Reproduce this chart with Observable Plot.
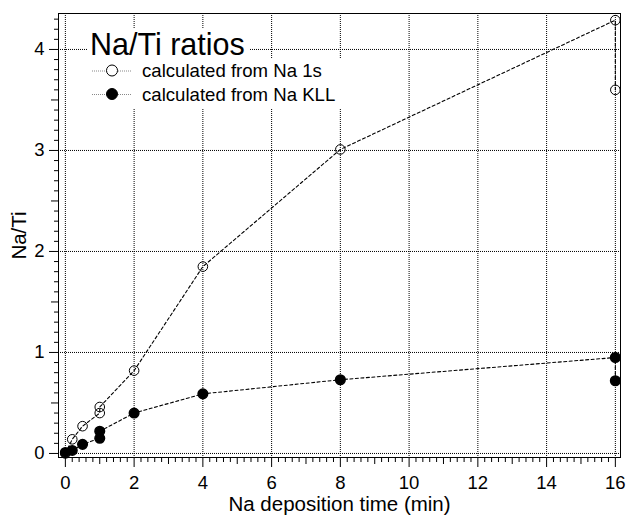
<!DOCTYPE html>
<html><head><meta charset="utf-8">
<script src="https://cdn.jsdelivr.net/npm/d3@7"></script>
<script src="https://cdn.jsdelivr.net/npm/@observablehq/plot@0.6"></script>
<style>body{margin:0;background:#fff;} svg{display:block}</style>
</head><body><div id="chart"></div>
<script>
// ---- data ----
const timeNa1s  = [0, 0.2, 0.5, 1, 1, 2, 4, 8, 16, 16];
const ratioNa1s = [0, 0.14, 0.27, 0.40, 0.46, 0.82, 1.85, 3.01, 4.29, 3.60];
const timeKLL   = [0, 0.2, 0.5, 1, 1, 2, 4, 8, 16, 16];
const ratioKLL  = [0.01, 0.03, 0.09, 0.15, 0.22, 0.40, 0.59, 0.73, 0.95, 0.72];
const xTicks = [0, 2, 4, 6, 8, 10, 12, 14, 16];
const yTicks = [0, 1, 2, 3, 4];
const seriesLabels = ["calculated from Na 1s", "calculated from Na KLL"];
const legendTitle = "Na/Ti ratios";
const xLabel = "Na deposition time (min)";
const yLabel = "Na/Ti";

const na1s = timeNa1s.map((t, i) => ({t, r: ratioNa1s[i]}));
const kll = timeKLL.map((t, i) => ({t, r: ratioKLL[i]}));

const xMinor = d3.range(0, 16.01, 0.2).map(v => +v.toFixed(2)).filter(v => Math.abs(v - Math.round(v)) > 1e-6);
const xMid = d3.range(1, 16, 2);
const yMinor = d3.range(0, 4.31, 0.1).map(v => +v.toFixed(2)).filter(v => Math.abs(v * 2 - Math.round(v * 2)) > 1e-6);
const yMid = [0.5, 1.5, 2.5, 3.5];

const font = "'Liberation Sans', Arial, Helvetica, sans-serif";
const dotted = {stroke: "black", strokeOpacity: 1, strokeDasharray: "1,1", strokeWidth: 1};
const noText = () => "";
const intFmt = d => String(d);

const chart = Plot.plot({
  width: 626, height: 516,
  marginLeft: 58, marginRight: 6, marginTop: 13, marginBottom: 59,
  style: {fontFamily: font, fontSize: "18px", color: "black", background: "white"},
  x: {domain: [-0.2, 16.15]},
  y: {domain: [-0.04, 4.356]},
  marks: [
    Plot.gridX(xTicks, dotted),
    Plot.gridY(yTicks, dotted),
    Plot.axisX({ticks: xMinor, tickSize: 5, tickFormat: noText, label: null}),
    Plot.axisX({ticks: xMid, tickSize: 7, tickFormat: noText, label: null}),
    Plot.axisX({ticks: xTicks, tickSize: 10, tickPadding: 8, fontSize: 18.5, tickFormat: intFmt,
      label: xLabel, labelAnchor: "center", labelOffset: 53, labelArrow: "none"}),
    Plot.axisY({ticks: yMinor, tickSize: 4, tickFormat: noText, label: null}),
    Plot.axisY({ticks: yMid, tickSize: 7, tickFormat: noText, label: null}),
    Plot.axisY({ticks: yTicks, tickSize: 9, tickPadding: 5, fontSize: 18.5, tickFormat: intFmt,
      label: yLabel, labelAnchor: "center", labelOffset: 47, labelArrow: "none"}),
    Plot.frame({stroke: "black", strokeWidth: 1}),
    Plot.line(na1s, {x: "t", y: "r", stroke: "black", strokeWidth: 1.1, strokeDasharray: "3,2.5"}),
    Plot.line(kll, {x: "t", y: "r", stroke: "black", strokeWidth: 1.1, strokeDasharray: "3,2.5"}),
    Plot.dot(na1s, {x: "t", y: "r", r: 4.8, stroke: "black", strokeWidth: 1, fill: "none"}),
    Plot.dot(kll, {x: "t", y: "r", r: 4.8, fill: "black", stroke: "black"})
  ]
});

const svg = d3.select(chart);
svg.selectAll("text").style("font-family", font);
svg.selectAll('[aria-label="x-axis label"] text, [aria-label="y-axis label"] text').style("font-size", "20.5px");

// legend
const lg = svg.append("g").attr("font-family", font).attr("fill", "black").attr("text-anchor", "start");
lg.append("rect").attr("x", 88).attr("y", 28).attr("width", 161).attr("height", 30).attr("fill", "white");
lg.append("rect").attr("x", 88).attr("y", 58).attr("width", 258).attr("height", 50).attr("fill", "white");
lg.append("text").attr("x", 90).attr("y", 55).attr("font-size", 30.5).text(legendTitle);
const entryY = [70.5, 94];
seriesLabels.forEach((lab, i) => {
  const y = entryY[i];
  lg.append("line").attr("x1", 92).attr("x2", 131).attr("y1", y + 0.5).attr("y2", y + 0.5)
    .attr("stroke", "#888").attr("stroke-dasharray", "1,1");
  lg.append("circle").attr("cx", 112).attr("cy", y).attr("r", 5.5)
    .attr("fill", i === 0 ? "white" : "black").attr("stroke", "black");
  lg.append("text").attr("x", 142).attr("y", y + 6.5).attr("font-size", 18.6).text(lab);
});

document.getElementById("chart").appendChild(chart);
</script>
</body></html>
